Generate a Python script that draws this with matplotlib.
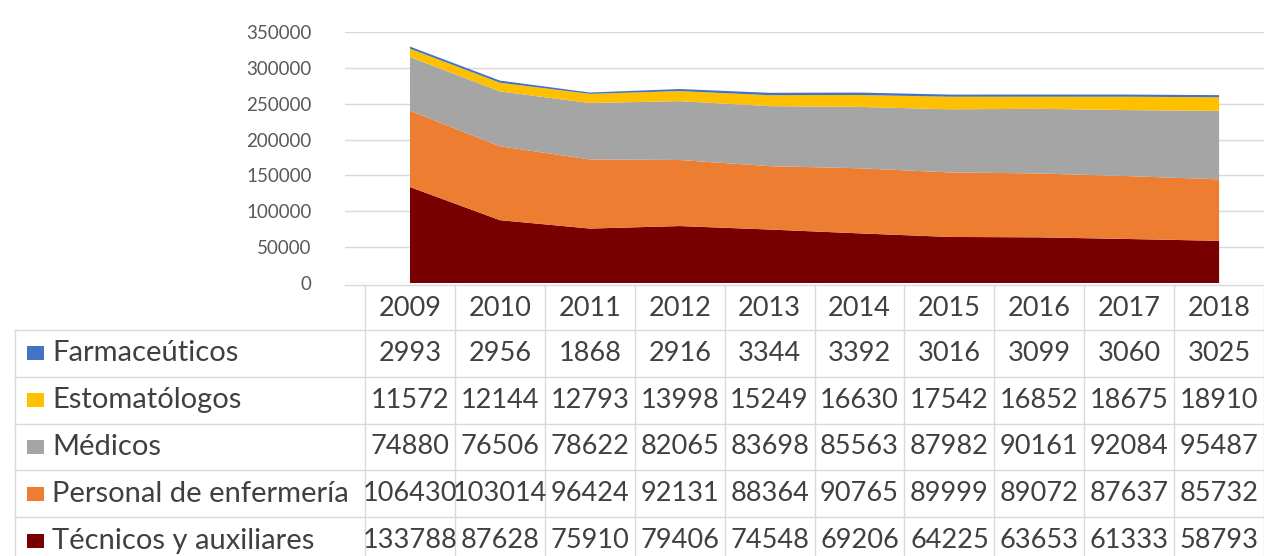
import matplotlib.pyplot as plt
import numpy as np

# datos de la tabla (personal de salud por año)
years = [2009, 2010, 2011, 2012, 2013, 2014, 2015, 2016, 2017, 2018]
farmaceuticos = [2993, 2956, 1868, 2916, 3344, 3392, 3016, 3099, 3060, 3025]
estomatologos = [11572, 12144, 12793, 13998, 15249, 16630, 17542, 16852, 18675, 18910]
medicos = [74880, 76506, 78622, 82065, 83698, 85563, 87982, 90161, 92084, 95487]
enfermeria = [106430, 103014, 96424, 92131, 88364, 90765, 89999, 89072, 87637, 85732]
tecnicos = [133788, 87628, 75910, 79406, 74548, 69206, 64225, 63653, 61333, 58793]

names = ["Farmaceúticos", "Estomatólogos", "Médicos", "Personal de enfermería", "Técnicos y auxiliares"]
rows = [farmaceuticos, estomatologos, medicos, enfermeria, tecnicos]
colors = ["#4472C4", "#FFC000", "#A5A5A5", "#ED7D31", "#780000"]

plt.rcParams['font.family'] = ['Lato', 'DejaVu Sans']

W, H = 1264, 556
col_w = 89.9
x0 = 410  # centro de la primera columna (px)


def fx(px):
    return (px - x0) / col_w


fig = plt.figure(figsize=(W / 100, H / 100), dpi=100)

# gráfico de áreas apiladas
ax = fig.add_axes([345 / W, (H - 283) / H, (W - 345) / W, (283 - 32) / H])
idx = np.arange(len(years))
ax.stackplot(idx, tecnicos, enfermeria, medicos, estomatologos, farmaceuticos,
             colors=colors[::-1], lw=0, zorder=3)
ax.set_xlim(fx(345), fx(W))
ax.set_ylim(0, 350000)
ax.set_yticks(range(0, 350001, 50000))
ax.grid(axis='y', color='#d9d9d9', lw=1)
ax.set_axisbelow(True)
for s in ax.spines.values():
    s.set_visible(False)
ax.set_xticks([])
ax.tick_params(axis='y', length=0, pad=24, labelsize=13.5, labelcolor='#595959')
ax.patch.set_alpha(0)

# tabla de datos
tab = fig.add_axes([0, 0, 1, 1], zorder=-1)
tab.set_xlim(fx(0), fx(W))
tab.set_ylim(H, 0)
tab.axis('off')

line_c = '#d9d9d9'
header_top, header_bot = 285, 330
row_h = 46.8
n = len(years)

tab.plot([fx(345), n - 0.5], [header_top, header_top], color=line_c, lw=1)
for r in range(len(names) + 1):
    y = header_bot + r * row_h
    tab.plot([fx(15), n - 0.5], [y, y], color=line_c, lw=1)
for i in range(n + 1):
    tab.plot([i - 0.5, i - 0.5], [header_top, H], color=line_c, lw=1)
tab.plot([fx(15), fx(15)], [header_bot, H], color=line_c, lw=1)

txt_c = '#404040'
fs = 19.5
for i, yr in enumerate(years):
    tab.text(i, (header_top + header_bot) / 2 + 1, str(yr), ha='center', va='center',
             fontsize=fs, color=txt_c)

for r, (name, vals, c) in enumerate(zip(names, rows, colors)):
    yc = header_bot + r * row_h + row_h / 2
    tab.add_patch(plt.Rectangle((fx(27), yc - 7), fx(44) - fx(27), 14, color=c, lw=0))
    tab.text(fx(52), yc, name, ha='left', va='center', fontsize=21, color=txt_c)
    for i, v in enumerate(vals):
        tab.text(i, yc, str(v), ha='center', va='center', fontsize=fs, color=txt_c)

fig.savefig('out.png', dpi=100)
